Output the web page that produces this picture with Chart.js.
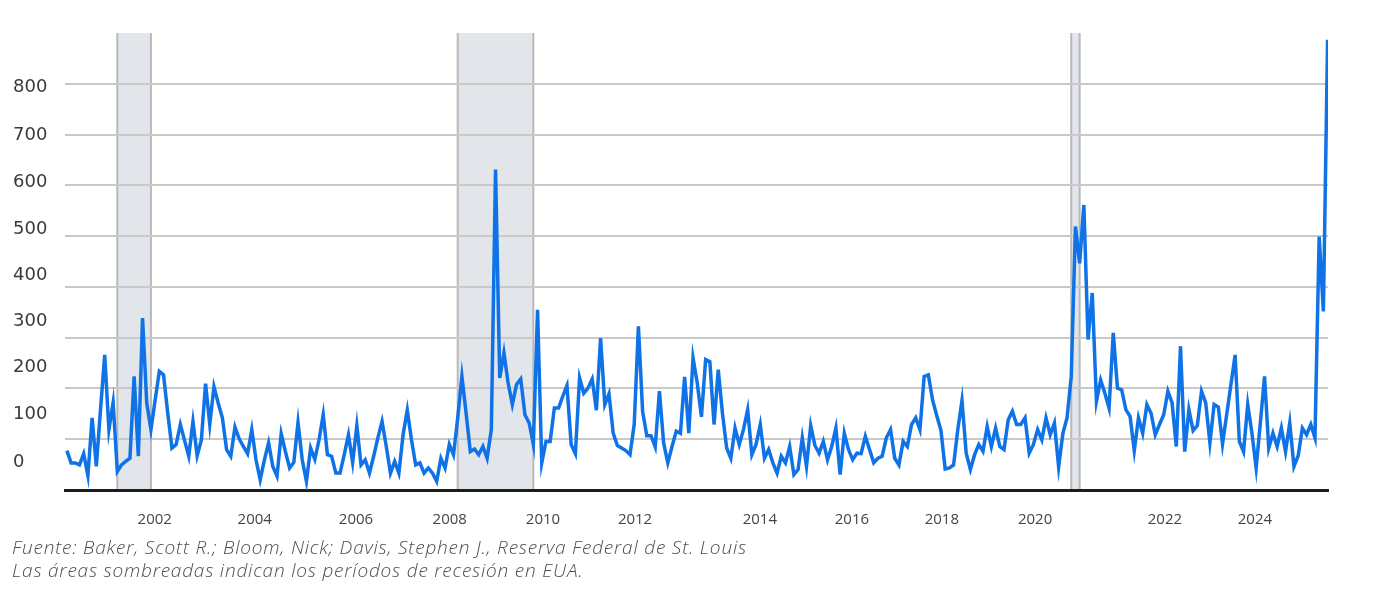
<!DOCTYPE html>
<html>
<head>
<meta charset="utf-8">
<script src="https://cdn.jsdelivr.net/npm/chart.js@4.4.1/dist/chart.umd.min.js"></script>
<style>
html,body{margin:0;padding:0;background:#fff;}
#wrap{position:relative;width:1384px;height:592px;overflow:hidden;background:#fff;}
#chartBox{position:absolute;left:0;top:0;width:1384px;height:540px;}
#foot{position:absolute;left:12px;top:536px;font-family:'Open Sans',sans-serif;font-style:italic;font-weight:300;font-size:19px;letter-spacing:0.8px;line-height:23px;color:#4d4d4d;white-space:nowrap;}
</style>
</head>
<body>
<div id="wrap">
  <div id="chartBox"><canvas id="c" width="1384" height="540"></canvas></div>
  <div id="foot">
    <div>Fuente: Baker, Scott R.; Bloom, Nick; Davis, Stephen J., Reserva Federal de St. Louis</div>
    <div>Las áreas sombreadas indican los períodos de recesión en EUA.</div>
  </div>
</div>
<script>
// ---- DATA ----
const startYear = 2000, startMonth = 3;   // first observation: 2000-03
const values = [
  77,53,53,49,71,28,141,46,157,264,118,171,
  36,49,56,62,222,66,336,170,118,176,232,225,
  150,82,89,128,97,66,134,67,98,208,128,202,
  170,141,79,66,123,100,85,71,118,59,20,59,
  92,46,27,110,75,43,54,132,59,17,82,60,
  98,147,69,66,33,33,69,108,54,126,49,59,
  33,66,102,134,85,33,56,33,108,156,98,49,
  53,33,43,33,17,62,43,89,69,141,222,150,
  75,80,69,85,62,118,626,219,268,209,167,206,
  217,147,131,89,352,53,95,95,160,160,183,204,
  89,71,219,189,199,217,156,297,167,188,111,87,
  82,77,69,128,320,154,106,106,84,193,92,53,
  85,115,111,221,111,258,209,143,255,251,128,235,
  150,82,62,121,89,118,157,69,89,128,62,79,
  53,33,66,53,85,30,40,102,46,126,87,72,
  95,59,85,121,30,111,79,59,72,71,105,79,
  53,62,66,102,118,62,49,95,85,128,141,118,
  222,225,176,145,116,41,43,49,118,175,72,40,
  69,89,76,124,85,121,85,79,137,154,128,128,
  141,72,89,118,98,141,108,131,45,110,141,222,
  515,443,557,294,385,173,215,189,160,307,199,196,
  157,144,77,141,111,167,150,108,128,147,193,170,
  85,281,75,157,116,126,193,170,92,167,162,90,
  148,206,264,95,75,167,111,43,131,222,82,111,
  85,121,75,131,46,67,121,108,128,102,495,349,
  880
];
const months = values.map((v, i) => {
  const m = startMonth - 1 + i;
  return (startYear + Math.floor(m / 12)) + '-' + String(m % 12 + 1).padStart(2, '0');
});
const recessions = [
  ['2001-03', '2001-11'],
  ['2007-12', '2009-06'],
  ['2020-02', '2020-04']
];
const xTickLabels = ['2002','2004','2006','2008','2010','2012','2014','2016','2018','2020','2022','2024'];
const yTickLabels = ['0','100','200','300','400','500','600','700','800'];

// ---- LAYOUT (where the source places its labels, in axis units) ----
const xTickAnchors = [20.9, 44.7, 68.8, 91.1, 113.3, 135.2, 164.9, 186.8, 208.2, 230.4, 261.3, 282.7];
const yTickAnchors = [55, 147, 239, 329, 419, 510, 602, 694, 786];

const bandPlugin = {
  id: 'recessionBands',
  beforeDraw(chart) {
    const { ctx, chartArea: a, scales: { x } } = chart;
    ctx.save();
    recessions.forEach(([s, e]) => {
      const x0 = x.getPixelForValue(months.indexOf(s));
      const x1 = x.getPixelForValue(months.indexOf(e));
      ctx.fillStyle = '#e2e6eb';
      ctx.fillRect(x0, a.top, x1 - x0, a.bottom - a.top);
      ctx.strokeStyle = '#b9b9b9';
      ctx.lineWidth = 2;
      ctx.beginPath();
      ctx.moveTo(x0, a.top); ctx.lineTo(x0, a.bottom);
      ctx.moveTo(x1, a.top); ctx.lineTo(x1, a.bottom);
      ctx.stroke();
    });
    ctx.restore();
  }
};

new Chart(document.getElementById('c'), {
  type: 'line',
  data: {
    datasets: [{
      data: values.map((v, i) => ({ x: i, y: v })),
      borderColor: '#0f72e6',
      borderWidth: 3.5,
      pointRadius: 0,
      tension: 0,
      fill: false,
      yAxisID: 'y'
    }]
  },
  options: {
    responsive: false,
    animation: false,
    devicePixelRatio: 1,
    layout: { padding: { top: 33, left: 13, right: 56, bottom: 0 } },
    plugins: { legend: { display: false }, tooltip: { enabled: false } },
    scales: {
      x: {
        type: 'linear',
        min: -0.45,
        max: 300.1,
        afterBuildTicks: s => { s.ticks = xTickAnchors.map(v => ({ value: v })); },
        afterFit: s => { s.height = 50; },
        ticks: {
          autoSkip: false,
          maxRotation: 0,
          padding: 13,
          color: '#444',
          font: { family: "'Open Sans', sans-serif", size: 15 },
          callback: (v, i) => xTickLabels[i]
        },
        grid: { display: false },
        border: { display: true, color: '#1c1c1c', width: 3 }
      },
      y: {
        position: 'left',
        min: 0,
        max: 893,
        afterFit: s => { s.width = 0; },
        ticks: { display: false, stepSize: 100, includeBounds: false },
        grid: {
          drawTicks: false,
          lineWidth: 2,
          color: c => (c.tick && c.tick.value > 0 && c.tick.value <= 800) ? '#c9c9c9' : 'rgba(0,0,0,0)'
        },
        border: { display: false }
      },
      yl: {
        position: 'left',
        min: 0,
        max: 893,
        afterBuildTicks: s => { s.ticks = yTickAnchors.map(v => ({ value: v })); },
        afterFit: s => { s.width = 52; },
        ticks: {
          autoSkip: false,
          crossAlign: 'far',
          padding: 0,
          color: '#3a3a3a',
          font: { family: "'DejaVu Sans', sans-serif", size: 18 },
          callback: (v, i) => yTickLabels[i]
        },
        grid: { display: false },
        border: { display: false }
      }
    }
  },
  plugins: [bandPlugin]
});
</script>
</body>
</html>
